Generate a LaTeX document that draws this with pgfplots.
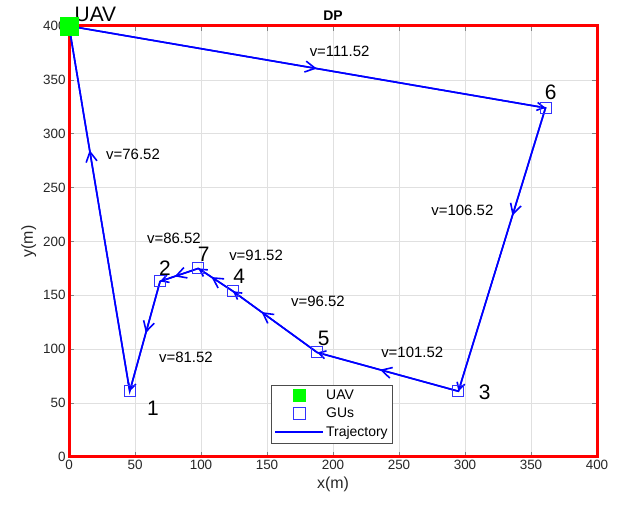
\documentclass[border=0pt]{standalone}
\usepackage{pgfplots}
\pgfplotsset{compat=1.18}
\usepackage{fontspec}
\setmainfont{Liberation Sans}
\usetikzlibrary{decorations.markings,arrows.meta}
\definecolor{mblue}{RGB}{0,0,255}
\definecolor{sqblue}{RGB}{50,50,255}
\definecolor{mgreen}{RGB}{0,255,0}
\tikzset{
  arr/.style={postaction={decorate}, decoration={markings,
    mark=at position #1 with {\arrow{Straight Barb[length=10bp,width=11bp]}},
    mark=at position 1 with {\arrow{Straight Barb[length=7bp,width=8bp]}}}},
  gusq/.style={draw=sqblue, line width=1bp, minimum size=11bp, inner sep=0pt, anchor=center, fill=none}
}
\begin{document}
\begin{tikzpicture}
\begin{axis}[
  width=528bp, height=431bp, scale only axis,
  xmin=0, xmax=400, ymin=0, ymax=400,
  xtick={0,50,...,400}, ytick={0,50,...,400},
  grid=major, grid style={color=black!12, line width=0.5bp},
  axis line style={red, line width=3bp},
  tick style={black!50, line width=0.5bp},
  tick align=inside, major tick length=5bp,
  ticklabel style={font=\fontsize{13.5}{15}\selectfont, text=black!85},
  /pgf/number format/assume math mode=true,
  xlabel={x(m)}, ylabel={y(m)},
  label style={font=\fontsize{16}{18}\selectfont, text=black!85},
  title={DP}, title style={font=\bfseries\fontsize{14}{16}\selectfont, yshift=-4bp},
  clip=false,
  legend style={at={(0.383,0.032)}, anchor=south west, draw=black!70,
    font=\fontsize{14}{16}\selectfont, row sep=3bp, inner sep=3bp},
  legend cell align=left,
]
\path (rel axis cs:-0.1307,-0.1276) rectangle (rel axis cs:1.0606,1.0603);

\addplot[color=mgreen, only marks, mark=square*, mark size=9bp, mark options={color=mgreen},
  legend image code/.code={\draw[draw=none, mark=square*, mark size=6bp, mark options={color=mgreen}, mark repeat=2, mark phase=2] plot coordinates {(0cm,0cm)(0.85cm,0cm)(1.7cm,0cm)};}]
  coordinates {(0,400)};
\addlegendentry{UAV}

\addplot[draw=none, no marks, nodes near coords={}, every node near coord/.style={gusq},
  legend image code/.code={\node[gusq, minimum size=12bp] at (0.85cm,0cm) {};}]
  coordinates {(46,61) (69,163) (295,61) (124,154) (188,97) (361,324) (98,175)};
\addlegendentry{GUs}

\addplot[mblue, line width=1.6bp, no marks,
  legend image code/.code={\draw[mblue, line width=1.6bp] (0cm,0cm) -- (1.7cm,0cm);}]
  coordinates {(0,400) (361,324) (295,61) (188,97) (124,154) (98,175) (69,163) (46,61) (0,400)};
\addlegendentry{Trajectory}

\addplot[mblue, line width=1.6bp, no marks, arr=0.52, forget plot] coordinates {(0,400) (361,324)};
\addplot[mblue, line width=1.6bp, no marks, arr=0.38, forget plot] coordinates {(361,324) (295,61)};
\addplot[mblue, line width=1.6bp, no marks, arr=0.555, forget plot] coordinates {(295,61) (188,97)};
\addplot[mblue, line width=1.6bp, no marks, arr=0.66, forget plot] coordinates {(188,97) (124,154)};
\addplot[mblue, line width=1.6bp, no marks, arr=0.62, forget plot] coordinates {(124,154) (98,175)};
\addplot[mblue, line width=1.6bp, no marks, arr=0.62, forget plot] coordinates {(98,175) (69,163)};
\addplot[mblue, line width=1.6bp, no marks, arr=0.47, forget plot] coordinates {(69,163) (46,61)};
\addplot[mblue, line width=1.6bp, no marks, arr=0.66, forget plot] coordinates {(46,61) (0,400)};

\begin{scope}[every node/.style={font=\fontsize{15}{17}\selectfont, inner sep=0pt}]
\node at (axis cs:205,376) {v=111.52};
\node at (axis cs:48.5,281) {v=76.52};
\node at (axis cs:298,229) {v=106.52};
\node at (axis cs:79.5,203) {v=86.52};
\node at (axis cs:141.7,187.5) {v=91.52};
\node at (axis cs:188.6,144) {v=96.52};
\node at (axis cs:260,97.4) {v=101.52};
\node at (axis cs:88.6,92.8) {v=81.52};
\end{scope}
\begin{scope}[every node/.style={font=\fontsize{21}{24}\selectfont, inner sep=0pt}]
\node at (axis cs:63.6,45.5) {1};
\node at (axis cs:72.7,175) {2};
\node at (axis cs:102,188) {7};
\node at (axis cs:129,168) {4};
\node at (axis cs:193,110) {5};
\node at (axis cs:315,60) {3};
\node at (axis cs:365,338) {6};
\node at (axis cs:20,411) {UAV};
\end{scope}
\end{axis}
\end{tikzpicture}
\end{document}
